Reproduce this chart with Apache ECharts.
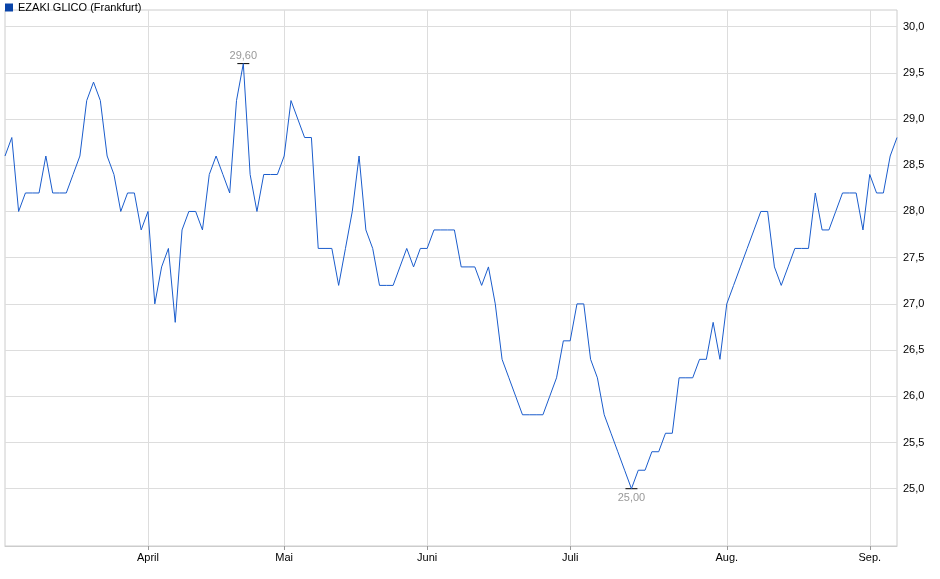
<!DOCTYPE html>
<html><head><meta charset="utf-8">
<script src="https://cdn.jsdelivr.net/npm/echarts@6/dist/echarts.min.js"></script>
<style>html,body{margin:0;padding:0;background:#fff}#main{width:940px;height:579px}</style>
</head><body><div id="main"></div>
<script>
var prices = [28.6,28.8,28.0,28.2,28.2,28.2,28.6,28.2,28.2,28.2,
  28.4,28.6,29.2,29.4,29.2,28.6,28.4,28.0,28.2,28.2,
  27.8,28.0,27.0,27.4,27.6,26.8,27.8,28.0,28.0,27.8,
  28.4,28.6,28.4,28.2,29.2,29.6,28.4,28.0,28.4,28.4,
  28.4,28.6,29.2,29.0,28.8,28.8,27.6,27.6,27.6,27.2,
  27.6,28.0,28.6,27.8,27.6,27.2,27.2,27.2,27.4,27.6,
  27.4,27.6,27.6,27.8,27.8,27.8,27.8,27.4,27.4,27.4,
  27.2,27.4,27.0,26.4,26.2,26.0,25.8,25.8,25.8,25.8,
  26.0,26.2,26.6,26.6,27.0,27.0,26.4,26.2,25.8,25.6,
  25.4,25.2,25.0,25.2,25.2,25.4,25.4,25.6,25.6,26.2,
  26.2,26.2,26.4,26.4,26.8,26.4,27.0,27.2,27.4,27.6,
  27.8,28.0,28.0,27.4,27.2,27.4,27.6,27.6,27.6,28.2,
  27.8,27.8,28.0,28.2,28.2,28.2,27.8,28.4,28.2,28.2,
  28.6,28.8];
var monthIdx = [21, 41, 62, 83, 106, 127];
var monthNames = ['April', 'Mai', 'Juni', 'Juli', 'Aug.', 'Sep.'];
var yTicks = [25.0, 25.5, 26.0, 26.5, 27.0, 27.5, 28.0, 28.5, 29.0, 29.5, 30.0];

var cats = prices.map(function (v, i) {
  var k = monthIdx.indexOf(i);
  return k >= 0 ? monthNames[k] : '';
});
var isMonth = function (i) { return monthIdx.indexOf(i) >= 0; };

var myChart = echarts.init(document.getElementById('main'));
var option = {
  animation: false,
  legend: {
    left: 0, top: -3, itemWidth: 8, itemHeight: 8, itemGap: 4,
    data: [{name: 'EZAKI GLICO (Frankfurt)', icon: 'rect'}],
    textStyle: {fontFamily: 'Liberation Sans', fontSize: 11, color: '#000'}
  },
  grid: {left: 5, right: 43, top: 10, bottom: 33, show: true, borderColor: '#ccc', borderWidth: 1},
  xAxis: {
    type: 'category', data: cats, boundaryGap: false,
    axisLine: {lineStyle: {color: '#ccc'}},
    axisTick: {interval: isMonth, length: 4, lineStyle: {color: '#999'}},
    axisLabel: {interval: isMonth, fontFamily: 'Liberation Sans', fontSize: 11, color: '#000', margin: 6},
    splitLine: {show: true, interval: isMonth, lineStyle: {color: '#ddd'}}
  },
  yAxis: {
    type: 'value', min: 24.38, max: 30.18, position: 'right',
    axisLine: {show: false}, axisTick: {show: false}, axisLabel: {show: false}, splitLine: {show: false}
  },
  series: [{
    name: 'grid', type: 'line', data: [], z: 1, silent: true,
    markLine: {
      silent: true, symbol: 'none', animation: false,
      lineStyle: {color: '#ddd', type: 'solid', width: 1},
      label: {position: 'end', distance: 6, fontFamily: 'Liberation Sans', fontSize: 11, color: '#000',
        formatter: function (p) { return p.value.toFixed(1).replace('.', ','); }},
      data: yTicks.map(function (t) { return {yAxis: t}; })
    }
  }, {
    name: 'EZAKI GLICO (Frankfurt)', type: 'line', data: prices, z: 5,
    symbol: 'none', itemStyle: {color: '#0a44a8'},
    lineStyle: {color: '#1a5ccc', width: 1},
    markPoint: {
      symbol: 'rect', symbolSize: [12, 1], itemStyle: {color: '#000'},
      label: {fontFamily: 'Liberation Sans', fontSize: 11, color: '#999',
        formatter: function (p) { return p.value.toFixed(2).replace('.', ','); }},
      data: [
        {type: 'max', label: {position: 'top', distance: 2}},
        {type: 'min', label: {position: 'bottom', distance: 3}}
      ]
    }
  }]
};
myChart.setOption(option);
</script></body></html>
